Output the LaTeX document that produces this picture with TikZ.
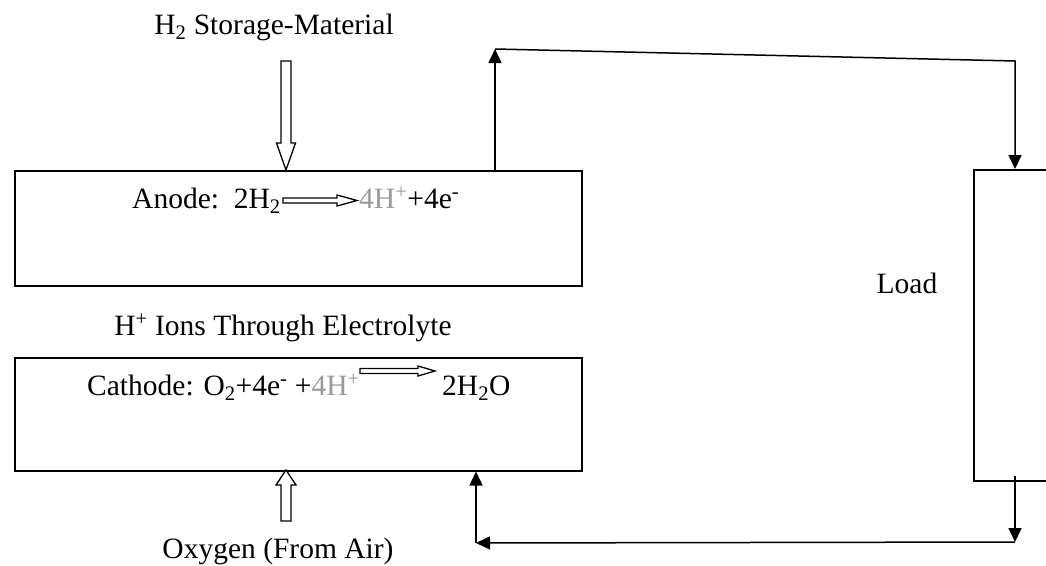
\documentclass[tikz,border=0pt]{standalone}
\usepackage{fontspec}
\setmainfont{Liberation Serif}
\usetikzlibrary{arrows.meta}
\definecolor{ionGray}{gray}{0.6}
\tikzset{
  box/.style={draw, line width=1.5pt, inner sep=0pt},
  wire/.style={draw, line width=1.5pt},
  tip/.style={-{Triangle[length=14pt,width=13pt]}},
  hollow/.style={draw, line width=1.3pt, fill=white, line join=miter},
  lbl/.style={inner sep=0pt, font=\fontsize{29.5}{34}\selectfont},
}
\begin{document}
\begin{tikzpicture}[x=1pt,y=-1pt]
\useasboundingbox (0,0) rectangle (1046,565);
\clip (0,0) rectangle (1046,565);
% boxes
\node[box, minimum width=567pt, minimum height=115pt, anchor=north west] (anode) at (14,170) {};
\node[box, minimum width=567pt, minimum height=113pt, anchor=north west] (cathode) at (14,357) {};
\node[box, minimum width=100pt, minimum height=311pt, anchor=north west] (load) at (973,169) {};
% texts
\node[lbl, anchor=base] (h2) at (274,34) {H\textsubscript{2} Storage-Material};
\node[lbl, anchor=base] (ions) at (283,335) {H\textsuperscript{+} Ions Through Electrolyte};
\node[lbl, anchor=base] (oxy) at (278,558) {Oxygen (From Air)};
\node[lbl, anchor=base] (loadtxt) at (907,293) {Load};
\node[lbl, anchor=base west] (anl) at (132,208) {Anode:\ \ 2H\textsubscript{2}};
\node[lbl, anchor=base west] (anr) at (359,208) {{\color{ionGray}4H\textsuperscript{+}}+4e\textsuperscript{-}};
\node[lbl, anchor=base west] (cal) at (87,395) {Cathode: O\textsubscript{2}+4e\textsuperscript{-} +{\color{ionGray}4H\textsuperscript{+}}};
\node[lbl, anchor=base west] (car) at (442,395) {2H\textsubscript{2}O};
% hollow reaction arrows
\draw[hollow] (283,198) -- (337,198) -- (337,195) -- (357,200.5) -- (337,206) -- (337,203) -- (283,203) -- cycle;
\draw[hollow] (360,368.5) -- (418,368.5) -- (418,366) -- (435,371) -- (418,376) -- (418,373.5) -- (360,373.5) -- cycle;
% hollow supply arrows
\draw[hollow] (281,61) -- (291,61) -- (291,143) -- (295.5,143) -- (286,170) -- (276.5,143) -- (281,143) -- cycle;
\draw[hollow] (281,521) -- (291,521) -- (291,485) -- (296,485) -- (286,470) -- (276,485) -- (281,485) -- cycle;
% external circuit
\coordinate (tl) at (495,49);
\coordinate (tr) at (1015,61);
\coordinate (br) at (1015,542);
\coordinate (bl) at (476,543);
\draw[wire, tip] (anode.north -| tl) -- (tl);
\draw[wire, tip] (tl) -- (tr) -- (load.north -| tr);
\draw[wire, tip] (1015,476) -- (br);
\draw[wire, tip] (br) -- (bl);
\draw[wire, tip] (bl) -- (cathode.south -| bl);
\end{tikzpicture}
\end{document}
